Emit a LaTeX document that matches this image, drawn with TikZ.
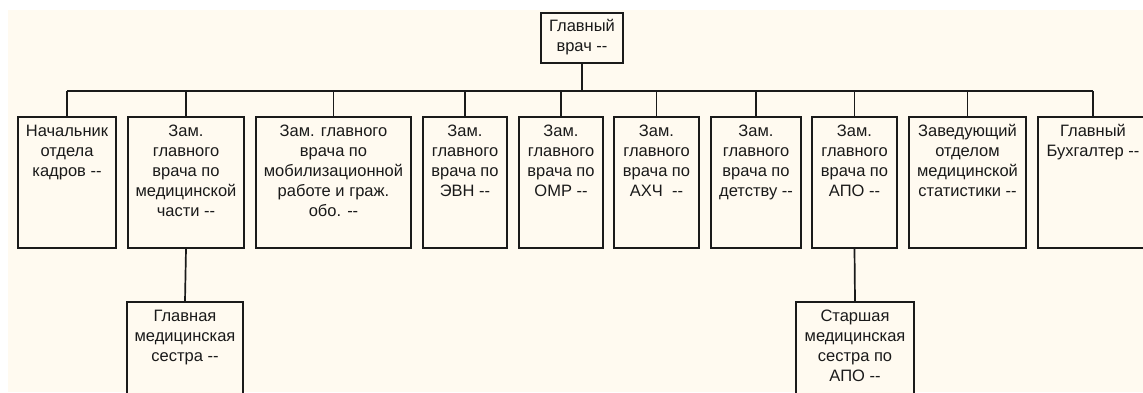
\documentclass[tikz,border=0pt]{standalone}
\usepackage{fontspec}
\setmainfont{Liberation Sans}
\definecolor{cream}{HTML}{FFFAF0}
\definecolor{ink}{HTML}{1A1A1A}
\newcommand{\orgtxt}[2]{\begin{minipage}[t]{#1pt}\centering\fontsize{16.5}{20}\selectfont #2\end{minipage}}
\newcommand{\dsh}{\mbox{-}\mbox{-}}
\begin{document}
\begin{tikzpicture}[x=1pt,y=-1pt,
  orgbox/.style={draw=ink, line width=1.7pt, fill=cream, inner sep=0pt},
  orglbl/.style={anchor=base, inner sep=0pt, text=ink},
  link/.style={draw=ink, line width=1.7pt}]
\useasboundingbox (0,0) rectangle (1143,392);
\clip (0,0) rectangle (1143,392);
\fill[white] (0,0) rectangle (1143,392);
\fill[cream] (8,10) rectangle (1143,392);
% top
\node[orgbox, minimum width=82pt, minimum height=50pt] (top) at (582,38) {};
\node[orglbl] (ttop) at ([yshift=-19pt]top.north) {\orgtxt{82}{Главный\\врач \dsh}};
% level 1
\foreach \n/\l/\r in {b1/18/116, b2/128/244, b3/256/411, b4/423/507, b5/519/603, b6/614/699, b7/711/801, b8/812/897, b9/909/1026, b10/1038/1148}{
  \node[orgbox, minimum width=\r-\l, minimum height=131pt] (\n) at ({(\l+\r)/2},182.5) {};
}
\node[orglbl] (t1) at ([yshift=-20pt]b1.north) {\orgtxt{98}{Начальник\\отдела\\кадров \dsh}};
\node[orglbl] (t2) at ([yshift=-20pt]b2.north) {\orgtxt{116}{Зам.\\главного\\врача по\\медицинской\\части \dsh}};
\node[orglbl] (t3) at ([yshift=-20pt]b3.north) {\orgtxt{155}{Зам. главного\\врача по\\мобилизационной\\работе и граж.\\обо. \dsh}};
\node[orglbl] (t4) at ([yshift=-20pt]b4.north) {\orgtxt{84}{Зам.\\главного\\врача по\\ЭВН \dsh}};
\node[orglbl] (t5) at ([yshift=-20pt]b5.north) {\orgtxt{84}{Зам.\\главного\\врача по\\ОМР \dsh}};
\node[orglbl] (t6) at ([yshift=-20pt]b6.north) {\orgtxt{85}{Зам.\\главного\\врача по\\АХЧ\ \ \dsh}};
\node[orglbl] (t7) at ([yshift=-20pt]b7.north) {\orgtxt{90}{Зам.\\главного\\врача по\\детству \dsh}};
\node[orglbl] (t8) at ([yshift=-20pt]b8.north) {\orgtxt{85}{Зам.\\главного\\врача по\\АПО \dsh}};
\node[orglbl] (t9) at ([yshift=-20pt]b9.north) {\orgtxt{117}{Заведующий\\отделом\\медицинской\\статистики \dsh}};
\node[orglbl] (t10) at ([yshift=-20pt]b10.north) {\orgtxt{110}{Главный\\Бухгалтер \dsh}};
% level 2
\node[orgbox, minimum width=116pt, minimum height=110pt] (c1) at (185,357) {};
\node[orglbl] (tc1) at ([yshift=-20pt]c1.north) {\orgtxt{116}{Главная\\медицинская\\сестра \dsh}};
\node[orgbox, minimum width=118pt, minimum height=110pt] (c2) at (855,357) {};
\node[orglbl] (tc2) at ([yshift=-20pt]c2.north) {\orgtxt{118}{Старшая\\медицинская\\сестра по\\АПО \dsh}};
% connectors
\coordinate (bus) at (582,91);
\draw[link] (top.south) -- (top.south |- bus);
\draw[link] (b1.north |- bus) -- (b10.north |- bus);
\foreach \n in {b1,b2,b3,b4,b5,b6,b7,b8,b9,b10}{
  \draw[link] (\n.north) -- (\n.north |- bus);
}
\draw[link] (b2.south) -- (c1.north);
\draw[link] (b8.south) -- (c2.north);
\end{tikzpicture}
\end{document}
